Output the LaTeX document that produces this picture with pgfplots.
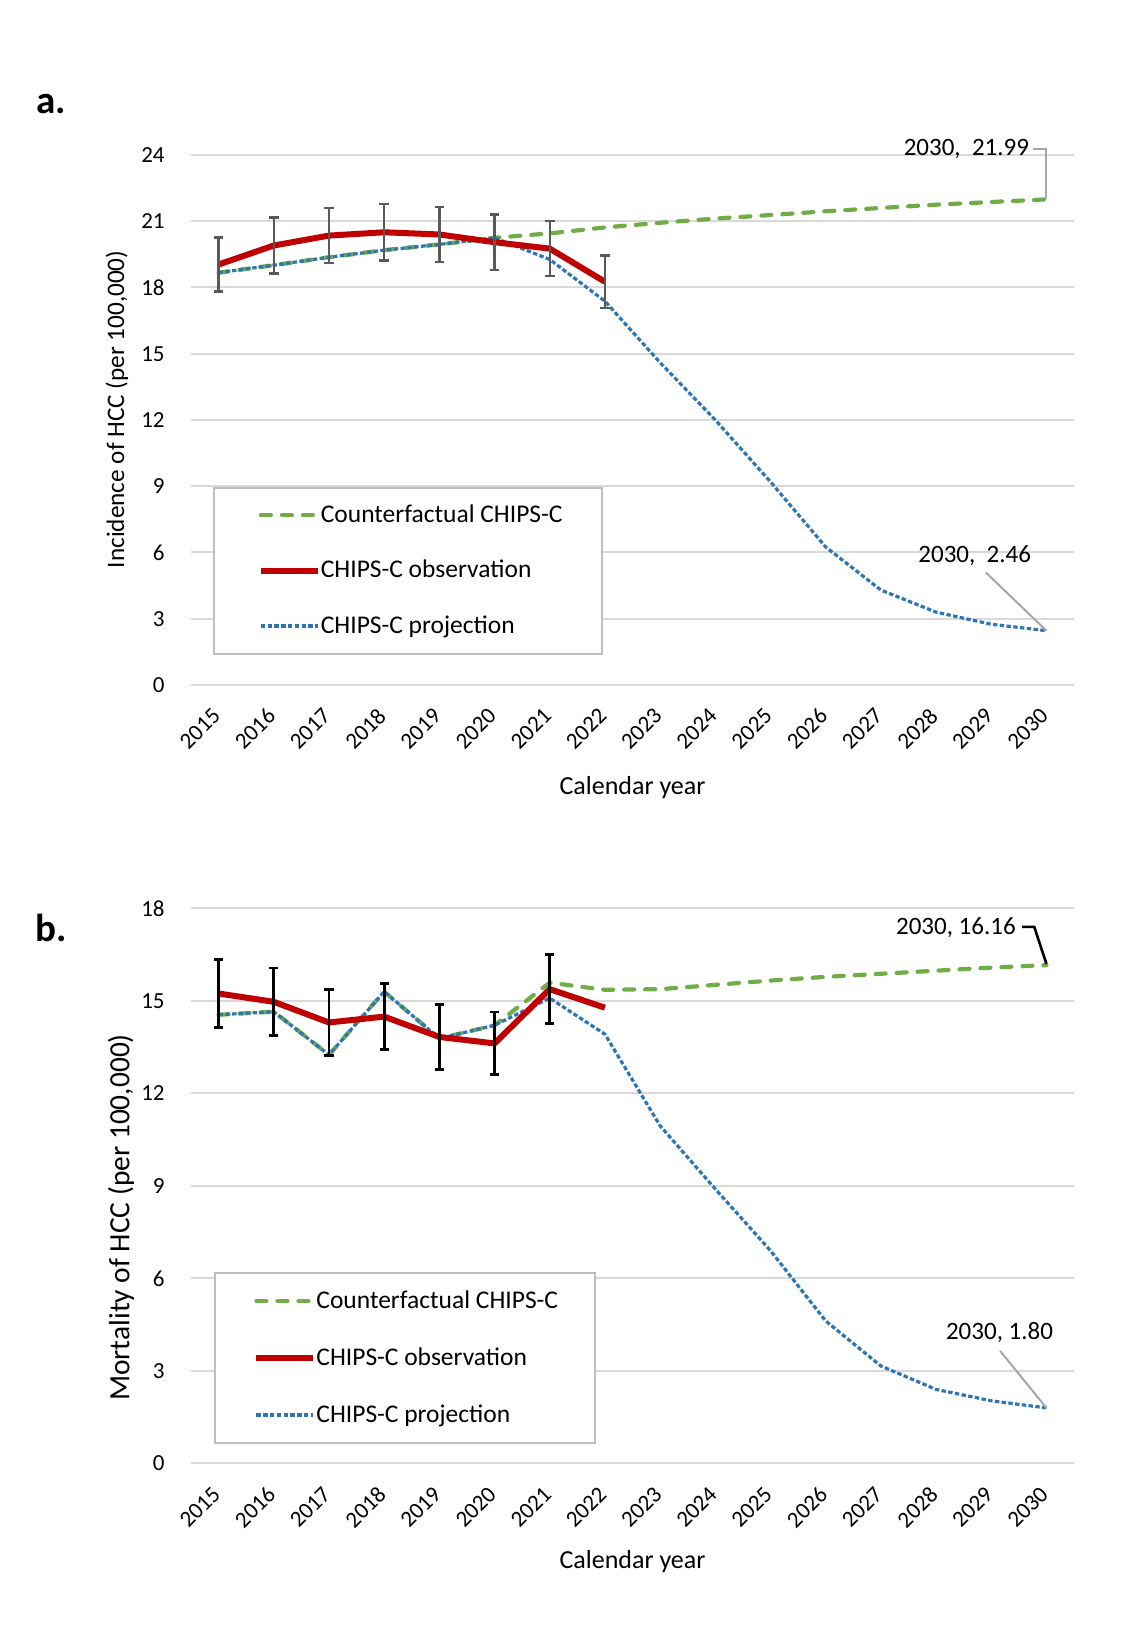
\documentclass[border=0pt]{standalone}
\usepackage{fontspec}
\setmainfont{Carlito}
\usepackage{pgfplots}
\usepackage{pgfplotstable}
\pgfplotsset{compat=1.18}
\definecolor{cfgreen}{HTML}{70AD47}
\definecolor{obsred}{HTML}{C00000}
\definecolor{projblue}{HTML}{2E75B6}
\definecolor{gridgray}{HTML}{D9D9D9}
\definecolor{leggray}{HTML}{BFBFBF}
\definecolor{errgray}{HTML}{595959}
\definecolor{leadgray}{HTML}{A6A6A6}

\pgfplotstableread{
x green blue
0 18.67 18.67
1 19.01 19.01
2 19.37 19.37
3 19.69 19.69
4 19.95 19.95
5 20.25 20.25
6 20.45 19.27
7 20.72 17.38
8 20.93 14.60
9 21.12 12.00
10 21.28 9.20
11 21.45 6.25
12 21.60 4.30
13 21.75 3.30
14 21.87 2.75
15 21.99 2.46
}\incA

\pgfplotstableread{
x red err
0 19.04 1.23
1 19.90 1.26
2 20.35 1.25
3 20.50 1.27
4 20.40 1.25
5 20.05 1.26
6 19.76 1.25
7 18.26 1.19
}\obsA

\pgfplotstableread{
x green blue
0 14.55 14.55
1 14.65 14.65
2 13.25 13.25
3 15.30 15.30
4 13.78 13.78
5 14.21 14.21
6 15.59 15.09
7 15.36 13.92
8 15.38 10.95
9 15.52 8.90
10 15.66 6.90
11 15.78 4.62
12 15.88 3.16
13 15.98 2.40
14 16.08 2.03
15 16.16 1.80
}\morB

\pgfplotstableread{
x red
0 15.24
1 14.97
2 14.30
3 14.49
4 13.83
5 13.62
6 15.38
7 14.78
}\obsB

\pgfplotstableread{
x red err
0 15.24 1.09
1 14.97 1.10
2 14.30 1.07
3 14.49 1.07
4 13.83 1.05
5 13.62 1.02
6 15.38 1.12
}\errB

\pgfplotsset{
  hccaxis/.style={
    scale only axis, width=441.5pt,
    xmin=-0.5, xmax=15.5, ymin=0,
    xtick={0,...,15},
    xticklabels={2015,2016,2017,2018,2019,2020,2021,2022,2023,2024,2025,2026,2027,2028,2029,2030},
    axis line style={draw=none},
    major tick length=0pt,
    ymajorgrids,
    grid style={gridgray, line width=1pt},
    clip=false,
    tick label style={font=\fontsize{11.5}{13}\selectfont},
    /pgf/number format/assume math mode=true,
    yticklabel style={anchor=east, inner sep=0pt, xshift=-13pt},
    xticklabel style={xshift=-1pt, yshift=-13.5pt, rotate=45, anchor=east, inner sep=0pt},
    legend cell align=left,
  },
  cfstyle/.style={cfgreen, line width=2.1pt, dash pattern=on 5pt off 5.5pt, line cap=round},
  obsstyle/.style={obsred, line width=3pt, line join=round},
  projstyle/.style={projblue, line width=1.6pt, dash pattern=on 2.2pt off 1.2pt},
}

\begin{document}
\begin{tikzpicture}
\path[use as bounding box] (0,0) rectangle (570pt,823.5pt);

\node[font=\bfseries\fontsize{19.5}{22}\selectfont] at (25.5pt,771.5pt) {a.};
\node[font=\bfseries\fontsize{19.5}{22}\selectfont] at (25.5pt,359.5pt) {b.};

% ---------- panel a ----------
\begin{axis}[hccaxis,
  at={(95.5pt,481pt)}, anchor=south west,
  height=265pt, ymax=24, ytick={0,3,...,24},
  legend style={at={(0.0248,0.3745)}, anchor=north west,
    draw=leggray, line width=1pt, fill=white,
    inner xsep=20pt, inner ysep=8pt, row sep=16pt, column sep=0pt,
    font=\fontsize{12.75}{15}\selectfont,
    nodes={inner sep=0pt, text height=0.95em, text depth=0.22em}},
  legend image code/.code={\path (-2pt,0pt); \draw[#1] (0pt,0pt) -- (28.5pt,0pt);},
]
\addplot[cfstyle, forget plot] table[x=x, y=green] {\incA};
\addplot[projstyle, forget plot] table[x=x, y=blue] {\incA};
\addplot[obsstyle, forget plot] table[x=x, y=red] {\obsA};
\addplot[draw=none, mark=none, forget plot,
  error bars/.cd, y dir=both, y explicit,
  error bar style={draw=errgray, line width=1.2pt},
  error mark options={draw=errgray, line width=1.2pt, mark size=2.4pt, rotate=90}]
  table[x=x, y=red, y error=err] {\obsA};
\addlegendimage{cfstyle}
\addlegendentry{Counterfactual CHIPS-C}
\addlegendimage{obsstyle}
\addlegendentry{CHIPS-C observation}
\addlegendimage{projstyle}
\addlegendentry{CHIPS-C projection}

\node[font=\fontsize{12.5}{15}\selectfont] at (axis cs:13.55,24.25) {2030,\ \ 21.99};
\draw[leadgray, line width=1pt] (axis cs:14.75,24.29) -- (axis cs:15,24.29) -- (axis cs:15,21.99);
\node[font=\fontsize{12.5}{15}\selectfont] at (axis cs:13.7,5.85) {2030,\ \ 2.46};
\draw[leadgray, line width=1pt] (axis cs:13.9,5.1) -- (axis cs:15,2.46);

\node[xshift=-37pt, rotate=90, font=\fontsize{12.6}{15}\selectfont] at (rel axis cs:0,0.52) {Incidence of HCC (per 100,000)};
\node[yshift=-51.5pt, font=\fontsize{13}{15}\selectfont] at (rel axis cs:0.5,0) {Calendar year};
\end{axis}

% ---------- panel b ----------
\begin{axis}[hccaxis,
  at={(95.5pt,91.8pt)}, anchor=south west,
  height=277.5pt, ymax=18, ytick={0,3,...,18},
  legend style={at={(0.026,0.3445)}, anchor=north west,
    draw=leggray, line width=1pt, fill=white,
    inner xsep=18.5pt, inner ysep=8pt, row sep=16.8pt, column sep=0pt,
    font=\fontsize{12.75}{15}\selectfont,
    nodes={inner sep=0pt, text height=0.95em, text depth=0.22em}},
  legend image code/.code={\path (-0.75pt,0pt); \draw[#1] (0pt,0pt) -- (28.5pt,0pt);},
]
\addplot[cfstyle, forget plot] table[x=x, y=green] {\morB};
\addplot[projstyle, forget plot] table[x=x, y=blue] {\morB};
\addplot[obsstyle, forget plot] table[x=x, y=red] {\obsB};
\addplot[draw=none, mark=none, forget plot,
  error bars/.cd, y dir=both, y explicit,
  error bar style={draw=black, line width=1.4pt},
  error mark options={draw=black, line width=1.4pt, mark size=2.3pt, rotate=90}]
  table[x=x, y=red, y error=err] {\errB};
\addlegendimage{cfstyle}
\addlegendentry{Counterfactual CHIPS-C}
\addlegendimage{obsstyle}
\addlegendentry{CHIPS-C observation}
\addlegendimage{projstyle}
\addlegendentry{CHIPS-C projection}

\node[font=\fontsize{12.5}{15}\selectfont] at (axis cs:13.36,17.36) {2030, 16.16};
\draw[black, line width=1.3pt] (axis cs:14.56,17.40) -- (axis cs:14.78,17.40) -- (axis cs:15,16.20);
\node[font=\fontsize{12.5}{15}\selectfont] at (axis cs:14.15,4.25) {2030, 1.80};
\draw[leadgray, line width=1pt] (axis cs:14.16,3.65) -- (axis cs:15,1.80);

\node[xshift=-35pt, rotate=90, font=\fontsize{14.7}{17}\selectfont] at (rel axis cs:0,0.443) {Mortality of HCC (per 100,000)};
\node[yshift=-49pt, font=\fontsize{13}{15}\selectfont] at (rel axis cs:0.5,0) {Calendar year};
\end{axis}
\end{tikzpicture}
\end{document}
